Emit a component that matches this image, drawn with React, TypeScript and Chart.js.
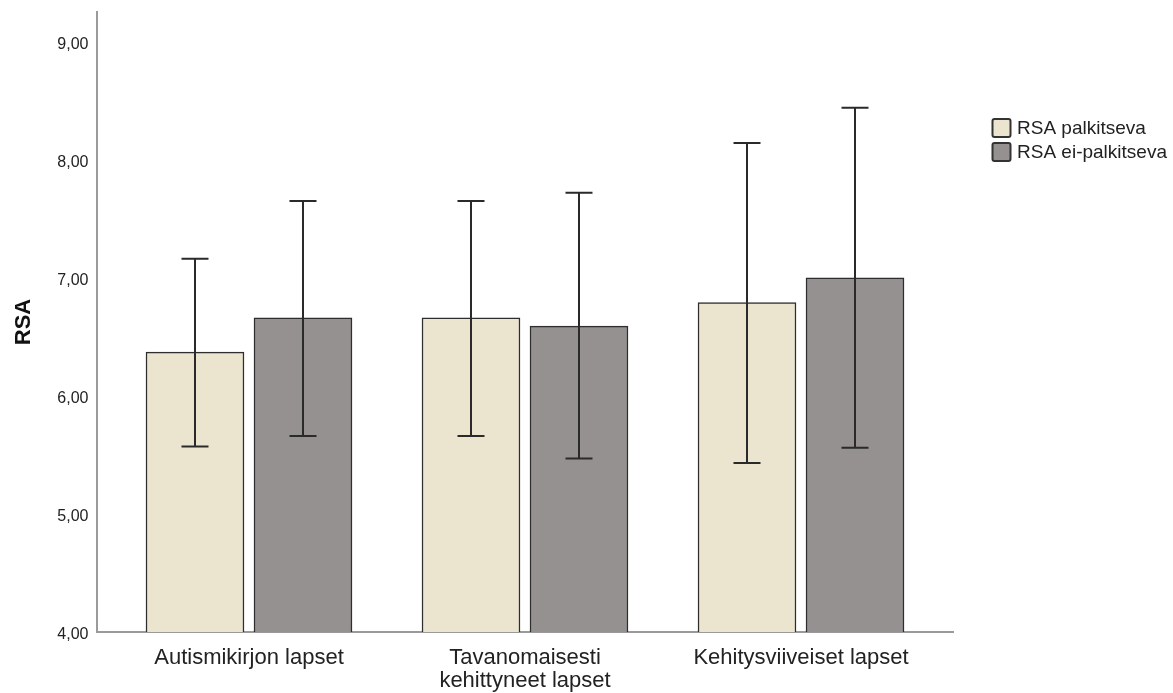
import React, { useEffect, useRef } from 'react';
import { Chart, registerables } from 'chart.js';

Chart.register(...registerables);

// ---- data ----
const categories: (string | string[])[] = [
  'Autismikirjon lapset',
  ['Tavanomaisesti', 'kehittyneet lapset'],
  'Kehitysviiveiset lapset',
];
const seriesNames = ['RSA palkitseva', 'RSA ei-palkitseva'];
const palkitsevaMean = [6.37, 6.66, 6.79];
const palkitsevaLow = [5.57, 5.66, 5.43];
const palkitsevaHigh = [7.16, 7.65, 8.14];
const eiPalkitsevaMean = [6.66, 6.59, 7.0];
const eiPalkitsevaLow = [5.66, 5.47, 5.56];
const eiPalkitsevaHigh = [7.65, 7.72, 8.44];
const yMin = 4;
const yMax = 9.25;
const yStep = 1;
const yTitle = 'RSA';

const FONT = "'Liberation Sans', Arial, sans-serif";
const colors = ['#ebe5d0', '#959190'];

const errorBarPlugin = {
  id: 'errorBars',
  afterDatasetsDraw(chart: any) {
    const { ctx } = chart;
    const y = chart.scales.y;
    chart.data.datasets.forEach((ds: any, di: number) => {
      const meta = chart.getDatasetMeta(di);
      meta.data.forEach((bar: any, i: number) => {
        const x = bar.x;
        const top = y.getPixelForValue(ds.errHigh[i]);
        const bot = y.getPixelForValue(ds.errLow[i]);
        const hw = 13.5;
        ctx.save();
        ctx.strokeStyle = '#2a2a2a';
        ctx.lineWidth = 2;
        ctx.beginPath();
        ctx.moveTo(x, top);
        ctx.lineTo(x, bot);
        ctx.moveTo(x - hw, top);
        ctx.lineTo(x + hw, top);
        ctx.moveTo(x - hw, bot);
        ctx.lineTo(x + hw, bot);
        ctx.stroke();
        ctx.restore();
      });
    });
  },
};

const legendPlugin = {
  id: 'sideLegend',
  afterDraw(chart: any) {
    const { ctx } = chart;
    const boxX = 992.5;
    const boxY0 = 119;
    const size = 18;
    const step = 24;
    chart.data.datasets.forEach((ds: any, i: number) => {
      const by = boxY0 + i * step;
      ctx.save();
      ctx.fillStyle = ds.backgroundColor;
      ctx.strokeStyle = '#333333';
      ctx.lineWidth = 2;
      ctx.beginPath();
      (ctx as any).roundRect(boxX, by, size, size, 2);
      ctx.fill();
      ctx.stroke();
      ctx.fillStyle = '#222222';
      ctx.font = `19px ${FONT}`;
      ctx.textBaseline = 'middle';
      ctx.textAlign = 'left';
      ctx.fillText(ds.label, 1017, by + size / 2 + 1);
      ctx.restore();
    });
  },
};

export default function App() {
  const ref = useRef<HTMLCanvasElement | null>(null);

  useEffect(() => {
    if (!ref.current) return;
    const chart = new Chart(ref.current, {
      type: 'bar',
      data: {
        datasets: [
          {
            label: seriesNames[0],
            data: palkitsevaMean.map((v, i) => ({ x: i, y: v })),
            errLow: palkitsevaLow,
            errHigh: palkitsevaHigh,
            backgroundColor: colors[0],
            borderColor: '#2e2e2e',
            borderWidth: 1.5,
            borderSkipped: 'bottom',
          } as any,
          {
            label: seriesNames[1],
            data: eiPalkitsevaMean.map((v, i) => ({ x: i, y: v })),
            errLow: eiPalkitsevaLow,
            errHigh: eiPalkitsevaHigh,
            backgroundColor: colors[1],
            borderColor: '#2e2e2e',
            borderWidth: 1.5,
            borderSkipped: 'bottom',
          } as any,
        ],
      },
      options: {
        animation: false,
        responsive: false,
        events: [],
        barThickness: 108,
        maxBarThickness: 98,
        layout: { padding: { top: 12, left: 0, right: 220, bottom: 0 } },
        plugins: {
          legend: { display: false },
          tooltip: { enabled: false },
        },
        scales: {
          x: {
            type: 'linear',
            offset: false,
            min: -0.5525,
            max: 2.5507,
            grid: { display: false, drawTicks: false, offset: false },
            border: { display: true, color: '#9a9a9a', width: 2 },
            afterBuildTicks: (scale: any) => {
              scale.ticks = categories.map((_, i) => ({ value: i }));
            },
            afterFit: (scale: any) => {
              scale.height = 61;
              scale.paddingLeft = 0;
              scale.paddingRight = 0;
            },
            ticks: {
              autoSkip: false,
              maxRotation: 0,
              minRotation: 0,
              padding: 15,
              color: '#222222',
              font: { family: FONT, size: 22, lineHeight: 1.02 },
              callback: (v: any) => (categories[v as number] ?? '') as any,
            },
          },
          y: {
            type: 'linear',
            min: yMin,
            max: yMax,
            grid: { display: false, drawTicks: false },
            border: { display: true, color: '#9a9a9a', width: 2 },
            afterFit: (scale: any) => {
              scale.width = 96.5;
              scale.paddingTop = 0;
              scale.paddingBottom = 0;
            },
            ticks: {
              stepSize: yStep,
              includeBounds: false,
              padding: 8,
              labelOffset: 3,
              color: '#222222',
              font: { family: FONT, size: 16 },
              callback: (v: any) => Number(v).toFixed(2).replace('.', ','),
            },
            title: {
              display: true,
              text: yTitle,
              color: '#111111',
              font: { family: FONT, size: 22, weight: 'bold' },
              padding: { top: 10.5, bottom: 0 },
            },
          },
        },
      } as any,
      plugins: [errorBarPlugin, legendPlugin],
    });
    return () => chart.destroy();
  }, []);

  return (
    <div style={{ position: 'absolute', left: 0, top: 0, width: 1173, height: 693, background: '#ffffff' }}>
      <canvas ref={ref} width={1173} height={693} style={{ width: 1173, height: 693 }} />
    </div>
  );
}
